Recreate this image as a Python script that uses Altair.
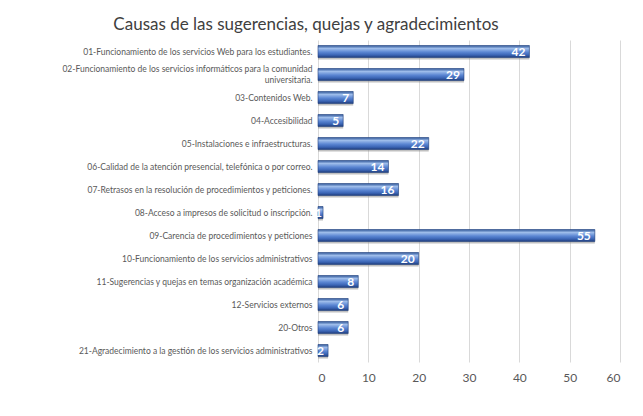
import altair as alt
import pandas as pd

categories = [
    "01-Funcionamiento de los servicios Web para los estudiantes.",
    "02-Funcionamiento de los servicios informáticos para la comunidad universitaria.",
    "03-Contenidos Web.",
    "04-Accesibilidad",
    "05-Instalaciones e infraestructuras.",
    "06-Calidad de la atención presencial, telefónica o por correo.",
    "07-Retrasos en la resolución de procedimientos y peticiones.",
    "08-Acceso a impresos de solicitud o inscripción.",
    "09-Carencia de procedimientos y peticiones",
    "10-Funcionamiento de los servicios administrativos",
    "11-Sugerencias y quejas en temas organización académica",
    "12-Servicios externos",
    "20-Otros",
    "21-Agradecimiento a la gestión de los servicios administrativos",
]
values = [42, 29, 7, 5, 22, 14, 16, 1, 55, 20, 8, 6, 6, 2]
x_ticks = [0, 10, 20, 30, 40, 50, 60]

df = pd.DataFrame({"cat": categories, "val": values})

NBSP = "\u00a0"
label_expr = (
    "indexof(datum.label, 'comunidad ') >= 0 ? "
    "[slice(datum.label, 0, indexof(datum.label, 'comunidad ') + 9), "
    "pad(slice(datum.label, indexof(datum.label, 'comunidad ') + 10), 70, '" + NBSP + "', 'right')] : datum.label"
)

y_enc = alt.Y(
    "cat:N",
    sort=categories,
    scale=alt.Scale(paddingInner=0, paddingOuter=0),
    axis=alt.Axis(
        title=None,
        labelLimit=400,
        labelFontSize=8.5,
        labelFont="Lato",
        labelColor="#595959",
        domain=False,
        ticks=False,
        grid=False,
        labelPadding=6,
        labelExpr=label_expr,
        labelLineHeight=11,
        labelBaseline="middle",
        labelOffset={"condition": {"test": "indexof(datum.value, 'comunidad') >= 0", "value": -5.5}, "value": 0},
    ),
)
x_enc = alt.X(
    "val:Q",
    scale=alt.Scale(domain=[0, 60], nice=False),
    axis=alt.Axis(
        values=x_ticks,
        title=None,
        domain=False,
        ticks=False,
        gridColor="#d9d9d9",
        labelFontSize=12,
        labelFont="Lato",
        labelColor="#595959",
        labelPadding=10,
    ),
)

grad = alt.Gradient(
    gradient="linear",
    x1=0, x2=0, y1=0, y2=1,
    stops=[
        alt.GradientStop(color="#2e5597", offset=0),
        alt.GradientStop(color="#9dbcea", offset=0.25),
        alt.GradientStop(color="#5b86d3", offset=0.55),
        alt.GradientStop(color="#3a64b4", offset=0.8),
        alt.GradientStop(color="#1f3c7a", offset=1),
    ],
)

base = alt.Chart(df).encode(y=y_enc)
shadow = base.mark_bar(color="#8c8c8c", opacity=0.55, size=12, yOffset=2, x2Offset=2).encode(x=x_enc)
bars = base.mark_bar(color=grad, stroke="#22427f", strokeWidth=0.6, size=12).encode(x=x_enc)
text = (
    base.transform_calculate(lx="max(datum.val, 1.6)")
    .mark_text(align="right", dx=-4, color="white", fontWeight="bold", fontSize=12, font="Lato")
    .encode(x=alt.X("lx:Q", scale=alt.Scale(domain=[0, 60], nice=False)), text="val:Q")
)

chart = (
    alt.layer(shadow, bars, text)
    .properties(
        width=302,
        height=322,
        autosize=alt.AutoSizeParams(type="none"),
        padding={"left": 310, "top": 32, "right": 15, "bottom": 46},
        title=alt.TitleParams(
            "Causas de las sugerencias, quejas y agradecimientos",
            font="Lato",
            fontSize=17,
            fontWeight="normal",
            color="#404040",
            anchor="middle",
            frame="group",
            dx=-163,
            offset=6,
        ),
    )
    .configure_view(stroke=None)
)

chart.save("out.html", embed_options={"renderer": "svg", "actions": False})
